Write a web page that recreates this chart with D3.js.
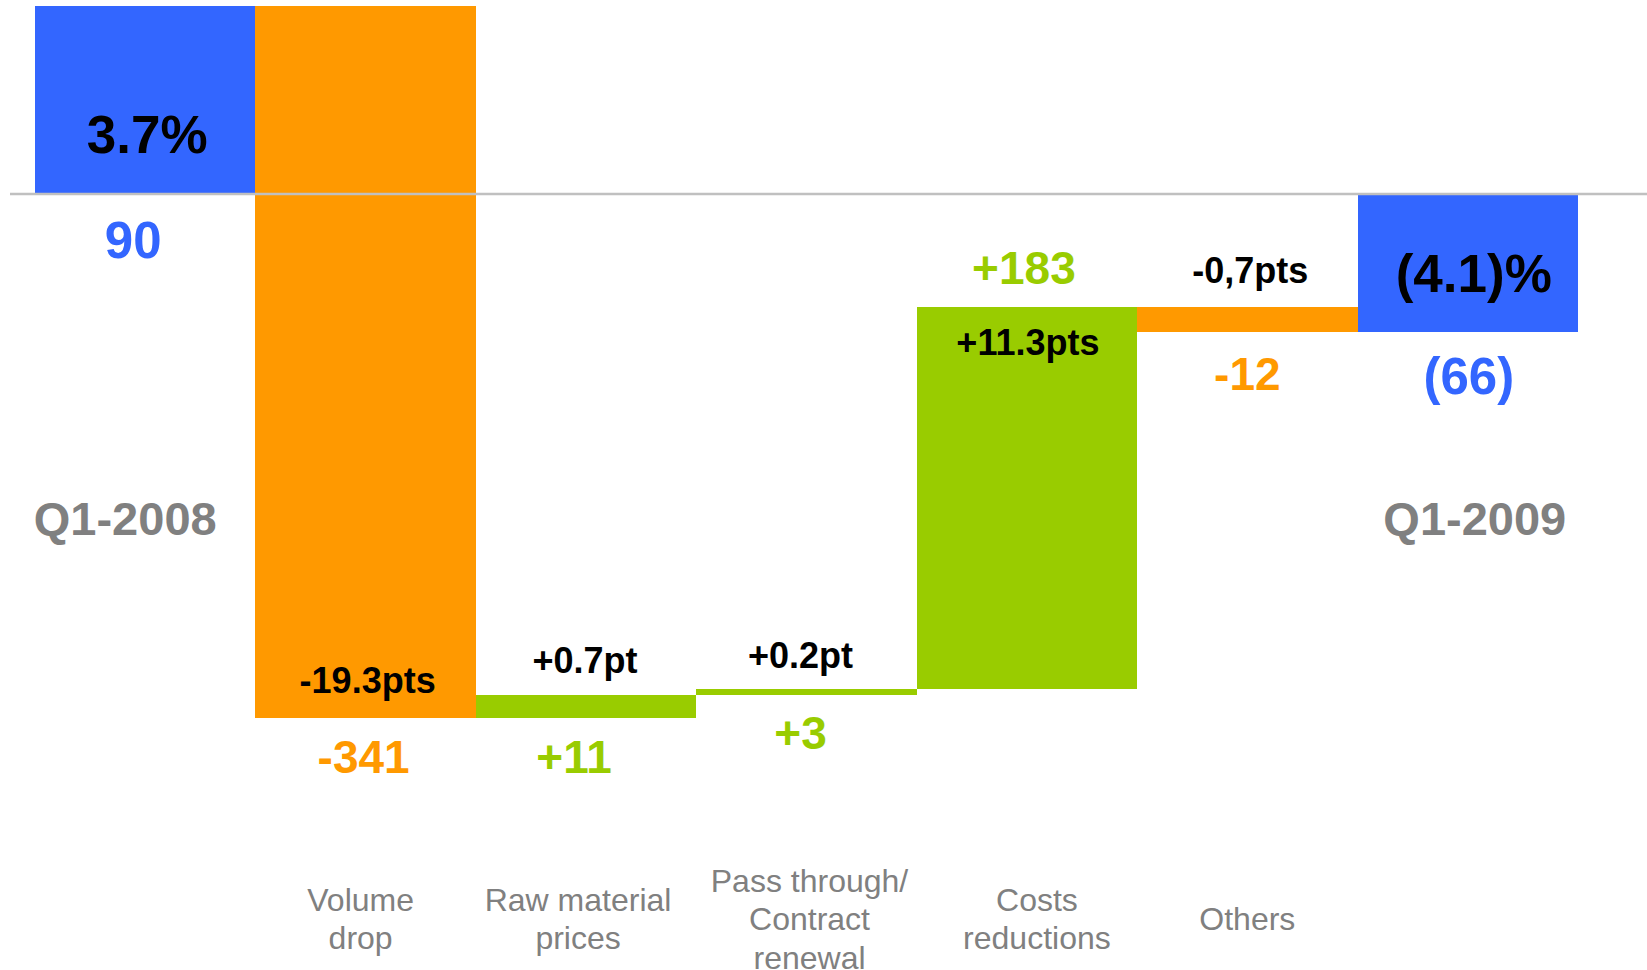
<!DOCTYPE html>
<html>
<head>
<meta charset="utf-8">
<script src="https://cdn.jsdelivr.net/npm/d3@7"></script>
<style>
  html, body { margin: 0; padding: 0; background: #ffffff; }
  svg { display: block; }
  text { font-family: "Liberation Sans", Arial, sans-serif; }
</style>
</head>
<body>
<svg id="chart" width="1647" height="970"></svg>
<script>
// Operating margin bridge, Q1-2008 to Q1-2009
const categories = ["Q1-2008", "Volume drop", "Raw material prices", "Pass through/ Contract renewal", "Costs reductions", "Others", "Q1-2009"];
const categoryLines = [[], ["Volume", "drop"], ["Raw material", "prices"], ["Pass through/", "Contract", "renewal"], ["Costs", "reductions"], ["Others"], []];
const periodLabels = ["Q1-2008", "", "", "", "", "", "Q1-2009"];
const kinds = ["total", "delta", "delta", "delta", "delta", "delta", "total"];
const values = [90, -341, 11, 3, 183, -12, -66];
const valueLabels = ["90", "-341", "+11", "+3", "+183", "-12", "(66)"];
const marginLabels = ["3.7%", "-19.3pts", "+0.7pt", "+0.2pt", "+11.3pts", "-0,7pts", "(4.1)%"];

const COLORS = { total: "#3366FF", up: "#99CC00", down: "#FF9900", axis: "#C0C0C0", cat: "#808080" };

// running start/end of each bar
let run = 0;
const bars = categories.map((c, i) => {
  let start, end;
  if (kinds[i] === "total") { start = 0; end = values[i]; run = values[i]; }
  else { start = run; end = run + values[i]; run = end; }
  const color = kinds[i] === "total" ? COLORS.total : (values[i] >= 0 ? COLORS.up : COLORS.down);
  return { cat: c, i, start, end, lo: Math.min(start, end), hi: Math.max(start, end), color };
});

const svg = d3.select("#chart");
const x = d3.scaleBand().domain(categories).range([35, 1578]).padding(0);
const y = d3.scaleLinear().domain([-251, 90]).range([718, 6]);

// bars
svg.append("g").selectAll("rect").data(bars).join("rect")
  .attr("x", d => x(d.cat))
  .attr("y", d => y(d.hi))
  .attr("width", x.bandwidth())
  .attr("height", d => y(d.lo) - y(d.hi))
  .attr("fill", d => d.color)
  .attr("shape-rendering", "crispEdges");

// zero line
svg.append("line")
  .attr("x1", 10).attr("x2", 1647)
  .attr("y1", y(0)).attr("y2", y(0))
  .attr("stroke", COLORS.axis).attr("stroke-width", 2.5);

// label layout: where each label sits relative to its bar
const valueLayout = [
  { ref: "bottom", dy: 64, dx: -12, size: 51 },
  { ref: "bottom", dy: 55, dx: -2, size: 46 },
  { ref: "bottom", dy: 55, dx: -12, size: 46 },
  { ref: "bottom", dy: 54, dx: -6, size: 46 },
  { ref: "top", dy: -23, dx: -3, size: 46 },
  { ref: "bottom", dy: 58, dx: 0, size: 46 },
  { ref: "bottom", dy: 62, dx: 1, size: 51 }
];
const marginLayout = [
  { ref: "bottom", dy: -41, dx: 2, size: 53 },
  { ref: "bottom", dy: -25, dx: 2, size: 36 },
  { ref: "top", dy: -22, dx: -1, size: 36 },
  { ref: "top", dy: -21, dx: -6, size: 36 },
  { ref: "top", dy: 48, dx: 1, size: 36 },
  { ref: "top", dy: -24, dx: 3, size: 36 },
  { ref: "top", dy: 98, dx: 6, size: 53 }
];
const refY = (d, ref) => ref === "top" ? y(d.hi) : y(d.lo);
const cx = d => x(d.cat) + x.bandwidth() / 2;

svg.append("g").selectAll("text").data(bars).join("text")
  .attr("x", d => cx(d) + valueLayout[d.i].dx)
  .attr("y", d => refY(d, valueLayout[d.i].ref) + valueLayout[d.i].dy)
  .attr("text-anchor", "middle")
  .attr("font-weight", "bold")
  .attr("font-size", d => valueLayout[d.i].size)
  .attr("fill", d => d.color)
  .text(d => valueLabels[d.i]);

svg.append("g").selectAll("text").data(bars).join("text")
  .attr("x", d => cx(d) + marginLayout[d.i].dx)
  .attr("y", d => refY(d, marginLayout[d.i].ref) + marginLayout[d.i].dy)
  .attr("text-anchor", "middle")
  .attr("font-weight", "bold")
  .attr("font-size", d => marginLayout[d.i].size)
  .attr("fill", "#000000")
  .text(d => marginLabels[d.i]);

// period names on the two total columns
const periodDx = [-20, 0, 0, 0, 0, 0, 7];
svg.append("g").selectAll("text").data(bars.filter(d => periodLabels[d.i])).join("text")
  .attr("x", d => cx(d) + periodDx[d.i])
  .attr("y", 535)
  .attr("text-anchor", "middle")
  .attr("font-weight", "bold")
  .attr("font-size", 47)
  .attr("fill", COLORS.cat)
  .text(d => periodLabels[d.i]);

// category names, vertically centred under the chart
const lineGap = 38.5, midY = 919;
const catDx = [0, -5, -8, 3, 10, 0, 0];
const catG = svg.append("g");
bars.forEach(d => {
  const lines = categoryLines[d.i];
  if (!lines.length) return;
  const t = catG.append("text")
    .attr("text-anchor", "middle")
    .attr("font-size", 32)
    .attr("fill", COLORS.cat);
  const first = midY - (lines.length - 1) * lineGap / 2 + 11;
  lines.forEach((ln, k) => {
    t.append("tspan").attr("x", cx(d) + catDx[d.i]).attr("y", first + k * lineGap).text(ln);
  });
});
</script>
</body>
</html>
